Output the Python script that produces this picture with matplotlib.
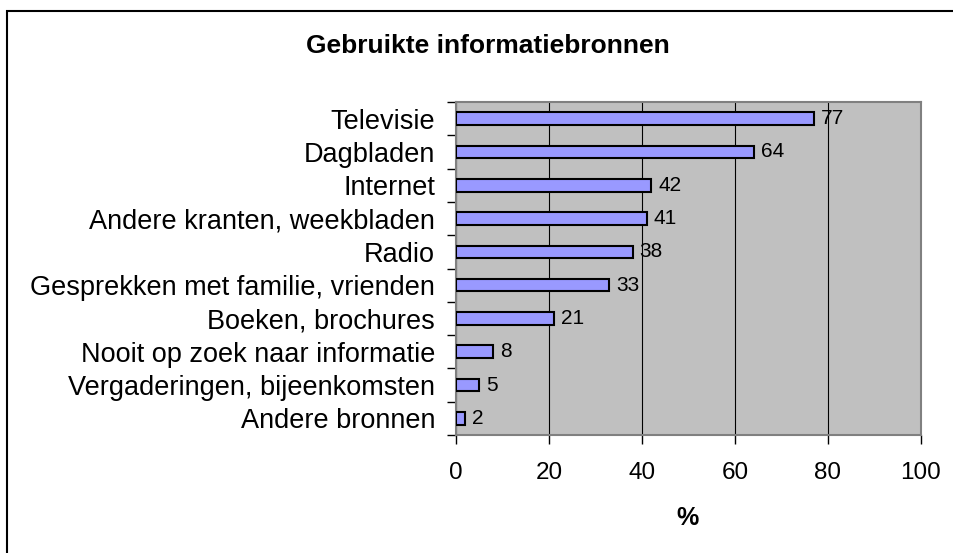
import matplotlib.pyplot as plt
from matplotlib.patches import Rectangle

plt.rcParams['font.family'] = ['Liberation Sans', 'DejaVu Sans']

# data
bronnen = ['Televisie', 'Dagbladen', 'Internet', 'Andere kranten, weekbladen', 'Radio',
           'Gesprekken met familie, vrienden', 'Boeken, brochures',
           'Nooit op zoek naar informatie', 'Vergaderingen, bijeenkomsten', 'Andere bronnen']
percentages = [77, 64, 42, 41, 38, 33, 21, 8, 5, 2]
x_ticks = [0, 20, 40, 60, 80, 100]

W, H = 954, 553
fig = plt.figure(figsize=(W / 100, H / 100), dpi=100)
ax = fig.add_axes([456 / W, 1 - 435 / H, (921 - 456) / W, (435 - 102) / H])

# omlijning rond de grafiek (rechts/onder valt buiten beeld)
fig.patches.append(Rectangle((7 / W, -0.1), 1.2, 1 - 11 / H + 0.1, transform=fig.transFigure,
                             fill=False, edgecolor='black', linewidth=1.5))

ax.set_facecolor('#C0C0C0')
for s in ax.spines.values():
    s.set_color('#808080')
    s.set_linewidth(1.5)

y = list(range(len(bronnen)))
ax.barh(y, percentages, height=0.38, color='#9999FF', edgecolor='black', linewidth=1.5, zorder=3)
for yi, v in zip(y, percentages):
    ax.annotate(str(v), (v, yi), xytext=(5, 0), textcoords='offset points',
                va='center', ha='left', fontsize=15, zorder=4)

ax.set_xlim(0, 100)
ax.set_ylim(len(bronnen) - 0.5, -0.5)
ax.set_xticks(x_ticks)
ax.set_xticklabels([str(t) for t in x_ticks], fontsize=17.5)
ax.set_yticks(y)
ax.set_yticklabels(bronnen, fontsize=19.5)
ax.tick_params(axis='y', length=0, pad=15)
ax.set_yticks([i - 0.5 for i in range(len(bronnen) + 1)], minor=True)
ax.tick_params(axis='y', which='minor', length=6.5, width=1, color='black')
ax.tick_params(axis='x', length=6.5, width=1, color='black', pad=13)
ax.grid(axis='x', color='black', linewidth=0.8, zorder=1)
ax.set_axisbelow(True)

fig.text(688 / W, 1 - 525 / H, '%', ha='center', va='baseline', fontsize=18, fontweight='bold')
fig.text(488 / W, 1 - 53 / H, 'Gebruikte informatiebronnen', ha='center', va='baseline',
         fontsize=19, fontweight='bold')

fig.savefig('out.png', dpi=100)
